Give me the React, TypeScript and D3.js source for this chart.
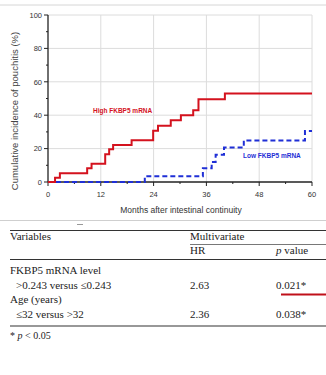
import React from "react";
import * as d3 from "d3";

const highMonths = [0, 1.6, 2.7, 8.9, 9.9, 13, 13.9, 14.8, 19, 23.9, 25, 27.9, 30.2, 33, 34.2, 40.2];
const highValues = [0, 2.5, 5.3, 8.2, 11, 16.6, 19.6, 22.2, 25, 30.7, 33.7, 37, 40, 43, 49.5, 53];
const lowMonths = [0, 22, 35.2, 37.2, 38.1, 40, 44.5, 58.4];
const lowValues = [0, 3.4, 8.2, 12, 16.3, 20.6, 24.9, 30.6];
const xTicks = [0, 12, 24, 36, 48, 60];
const yTicks = [0, 20, 40, 60, 80, 100];
const xMinor = [6, 18, 30, 42, 54];
const yMinor = [10, 30, 50, 70, 90];

const tableRows = [
  { label: "FKBP5 mRNA level", indent: false, hr: "", p: "" },
  { label: ">0.243 versus \u22640.243", indent: true, hr: "2.63", p: "0.021*" },
  { label: "Age (years)", indent: false, hr: "", p: "" },
  { label: "\u226432 versus >32", indent: true, hr: "2.36", p: "0.038*" },
];

export default function App() {
  const x = d3.scaleLinear().domain([0, 60]).range([48, 312]);
  const y = d3.scaleLinear().domain([0, 100]).range([182, 15]);
  const line = d3
    .line<[number, number]>()
    .x((d) => x(d[0]))
    .y((d) => y(d[1]))
    .curve(d3.curveStepAfter);
  const high: [number, number][] = highMonths.map((m, i) => [m, highValues[i]]);
  high.push([60, highValues[highValues.length - 1]]);
  const low: [number, number][] = lowMonths.map((m, i) => [m, lowValues[i]]);
  low.push([60, lowValues[lowValues.length - 1]]);

  const sans = "'Liberation Sans', Arial, sans-serif";
  const serif = "'Liberation Serif', 'Times New Roman', serif";
  const rowY = [274, 289, 303, 318];

  return (
    <svg
      width={326}
      height={375}
      style={{ position: "absolute", left: 0, top: 0, background: "#fff" }}
    >
      <rect x={0} y={0} width={326} height={375} fill="#fff" />
      <line x1={0} x2={326} y1={5} y2={5} stroke="#d6d6d6" strokeWidth={1} />
      {/* grid */}
      {xTicks.slice(1).map((t) => (
        <line key={"gx" + t} x1={x(t)} x2={x(t)} y1={y(100)} y2={y(0)} stroke="#dcdcdc" strokeWidth={1} />
      ))}
      {yTicks.slice(1).map((t) => (
        <line key={"gy" + t} x1={x(0)} x2={x(60)} y1={y(t)} y2={y(t)} stroke="#dcdcdc" strokeWidth={1} />
      ))}
      {/* axes */}
      <line x1={x(0)} x2={x(0)} y1={y(100)} y2={y(0)} stroke="#222" strokeWidth={1.3} />
      <line x1={x(0)} x2={x(60)} y1={y(0)} y2={y(0)} stroke="#222" strokeWidth={1.3} />
      {yTicks.map((t) => (
        <g key={"yt" + t}>
          <line x1={x(0) - 4} x2={x(0)} y1={y(t)} y2={y(t)} stroke="#222" strokeWidth={1} />
          <text x={x(0) - 6} y={y(t) + 2.7} fontSize={7.5} fontFamily={sans} fill="#333" textAnchor="end">
            {t}
          </text>
        </g>
      ))}
      {yMinor.map((t) => (
        <line key={"ym" + t} x1={x(0) - 2} x2={x(0)} y1={y(t)} y2={y(t)} stroke="#222" strokeWidth={1} />
      ))}
      {xTicks.map((t) => (
        <g key={"xt" + t}>
          <line x1={x(t)} x2={x(t)} y1={y(0)} y2={y(0) + 4} stroke="#222" strokeWidth={1} />
          <text x={x(t)} y={y(0) + 14.5} fontSize={7.5} fontFamily={sans} fill="#333" textAnchor="middle">
            {t}
          </text>
        </g>
      ))}
      {xMinor.map((t) => (
        <line key={"xm" + t} x1={x(t)} x2={x(t)} y1={y(0)} y2={y(0) + 2} stroke="#222" strokeWidth={1} />
      ))}
      <text
        transform={`translate(17.5,111) rotate(-90)`}
        fontSize={9.5}
        fontFamily={sans}
        fill="#444"
        textAnchor="middle"
      >
        Cumulative incidence of pouchitis (%)
      </text>
      <text x={181} y={213} fontSize={8.5} fontFamily={sans} fill="#333" textAnchor="middle">
        Months after intestinal continuity
      </text>
      {/* curves */}
      <path d={line(low) || ""} fill="none" stroke="#1f2fd6" strokeWidth={2} strokeDasharray="5,3" />
      <path d={line(high) || ""} fill="none" stroke="#d4121e" strokeWidth={2} />
      <text x={93} y={113} fontSize={6.5} fontWeight="bold" fontFamily={sans} fill="#d4121e">
        High FKBP5 mRNA
      </text>
      <text x={243} y={158} fontSize={6.5} fontWeight="bold" fontFamily={sans} fill="#1f2fd6">
        Low FKBP5 mRNA
      </text>
      {/* table */}
      <line x1={0} x2={326} y1={220.5} y2={220.5} stroke="#cfcfcf" strokeWidth={1} />
      <line x1={77} x2={83} y1={224.5} y2={224.5} stroke="#999" strokeWidth={1} />
      <line x1={10} x2={326} y1={230.5} y2={230.5} stroke="#333" strokeWidth={1.2} />
      <text x={10} y={240} fontSize={11} fontFamily={serif} fill="#222">Variables</text>
      <text x={190} y={240} fontSize={11} fontFamily={serif} fill="#222">Multivariate</text>
      <line x1={190} x2={326} y1={244.5} y2={244.5} stroke="#555" strokeWidth={0.8} />
      <text x={190} y={254} fontSize={11} fontFamily={serif} fill="#222">HR</text>
      <text x={276} y={254} fontSize={11} fontFamily={serif} fill="#222">
        <tspan fontStyle="italic">p</tspan> value
      </text>
      <line x1={10} x2={326} y1={259.5} y2={259.5} stroke="#333" strokeWidth={1.2} />
      {tableRows.map((r, i) => (
        <g key={"row" + i}>
          <text x={r.indent ? 16 : 10} y={rowY[i]} fontSize={11} fontFamily={serif} fill="#222">
            {r.label}
          </text>
          {r.hr && (
            <text x={190} y={rowY[i]} fontSize={11} fontFamily={serif} fill="#222">{r.hr}</text>
          )}
          {r.p && (
            <text x={276} y={rowY[i]} fontSize={11} fontFamily={serif} fill="#222">{r.p}</text>
          )}
        </g>
      ))}
      <line x1={281} x2={326} y1={294.5} y2={294.5} stroke="#c0101a" strokeWidth={2} />
      <line x1={10} x2={326} y1={326} y2={326} stroke="#333" strokeWidth={1.2} />
      <text x={10} y={339} fontSize={10} fontFamily={serif} fill="#222">
        * <tspan fontStyle="italic">p</tspan> {"< 0.05"}
      </text>
    </svg>
  );
}
